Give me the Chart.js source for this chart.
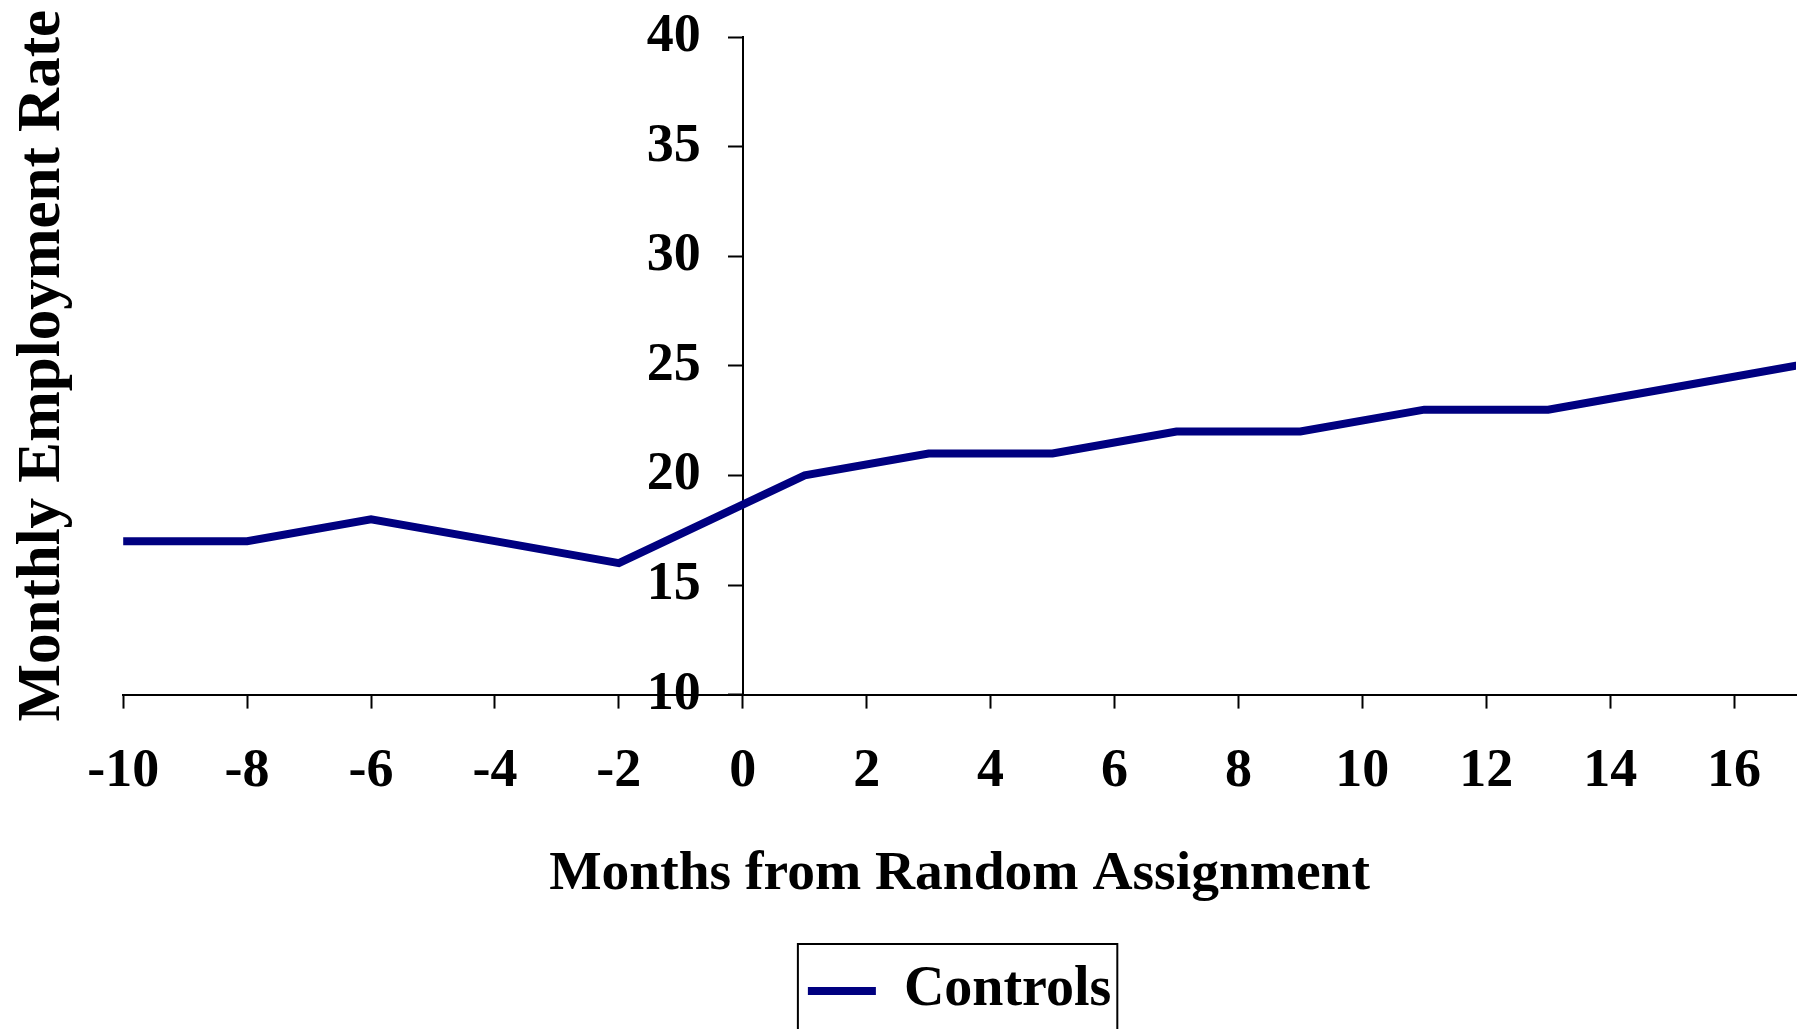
<!DOCTYPE html>
<html>
<head>
<meta charset="utf-8">
<script src="https://cdn.jsdelivr.net/npm/chart.js@4/dist/chart.umd.min.js"></script>
<style>
  html, body { margin: 0; padding: 0; background: #ffffff; overflow: hidden; }
  #wrap { position: relative; width: 1802px; height: 1029px; }
</style>
</head>
<body>
<div id="wrap"><canvas id="c"></canvas></div>
<script>
// ---- data ----
const months = [-10, -8, -6, -4, -2, 1, 3, 5, 7, 9, 11, 13, 15, 17];
const controlsRate = [17, 17, 18, 17, 16, 20, 21, 21, 22, 22, 23, 23, 24, 25];
const xTickValues = [-10, -8, -6, -4, -2, 0, 2, 4, 6, 8, 10, 12, 14, 16];
const yTickValues = [10, 15, 20, 25, 30, 35, 40];
const seriesLabel = 'Controls';
const xAxisTitle = 'Months from Random Assignment';
const yAxisTitle = 'Monthly Employment Rate';

// ---- styling ----
const FONT = "'Liberation Serif', 'Times New Roman', serif";
const NAVY = '#000080';
Chart.defaults.color = '#000';

const points = months.map((m, i) => ({ x: m, y: controlsRate[i] }));

// box drawn around the legend item (Excel-style legend frame)
const legendBorder = {
  id: 'legendBorder',
  afterDraw(chart) {
    const lg = chart.legend;
    if (!lg || !lg.legendHitBoxes || !lg.legendHitBoxes.length) return;
    const hb = lg.legendHitBoxes[0];
    const ctx = chart.ctx;
    ctx.save();
    ctx.strokeStyle = '#000';
    ctx.lineWidth = 2;
    ctx.strokeRect(hb.left - 10, hb.top - 19, hb.width + 16, 200);
    ctx.restore();
  }
};

// the crossing y axis puts its labels on the axis line; move them left by tick length + padding
const yLabelShift = {
  id: 'yLabelShift',
  beforeDraw(chart) {
    const s = chart.scales.y;
    const gap = s.options.grid.tickLength + s.options.ticks.padding;
    s.getLabelItems().forEach(it => {
      if (!it._shifted) { it.options.translation[0] -= gap; it._shifted = true; }
    });
  }
};

new Chart(document.getElementById('c'), {
  type: 'line',
  data: {
    datasets: [{
      label: seriesLabel,
      data: points,
      borderColor: NAVY,
      backgroundColor: NAVY,
      borderWidth: 8,
      borderCapStyle: 'round',
      borderJoinStyle: 'miter',
      pointRadius: 0,
      pointHoverRadius: 0,
      tension: 0,
      fill: false,
      xAxisID: 'x',
      yAxisID: 'y'
    }]
  },
  options: {
    responsive: true,
    maintainAspectRatio: false,
    animation: false,
    events: [],
    layout: { padding: { left: 0, right: 6, top: 37, bottom: 0 } },
    plugins: {
      tooltip: { enabled: false },
      legend: {
        position: 'bottom',
        fullSize: false,
        labels: {
          usePointStyle: true,
          pointStyle: 'line',
          pointStyleWidth: 68,
          padding: 10,
          color: '#000',
          font: { family: FONT, size: 56, weight: 'bold' }
        }
      }
    },
    scales: {
      x: {
        type: 'linear',
        position: 'bottom',
        min: -10,
        max: 17,
        afterBuildTicks: (s) => { s.ticks = xTickValues.map(v => ({ value: v })); },
        ticks: {
          autoSkip: false,
          maxRotation: 0,
          padding: 31,
          color: '#000',
          font: { family: FONT, size: 54, weight: 'bold' }
        },
        grid: { drawOnChartArea: false, drawTicks: true, tickLength: 14, tickWidth: 2, tickColor: '#000' },
        border: { display: true, color: '#000', width: 2 },
        title: {
          display: true,
          text: xAxisTitle,
          color: '#000',
          font: { family: FONT, size: 55.5, weight: 'bold' },
          padding: { top: 6, bottom: 45 }
        }
      },
      y: {
        type: 'linear',
        position: { x: 0 },
        min: 10,
        max: 40,
        afterBuildTicks: (s) => { s.ticks = yTickValues.map(v => ({ value: v })); },
        afterFit: (s) => { s.paddingTop = 0; s.paddingBottom = 0; },
        ticks: {
          padding: 28,
          color: '#000',
          font: { family: FONT, size: 54, weight: 'bold' }
        },
        grid: { drawOnChartArea: false, drawTicks: true, tickLength: 14, tickWidth: 2, tickColor: '#000' },
        border: { display: true, color: '#000', width: 2 }
      },
      yTitle: {
        type: 'linear',
        position: 'left',
        min: 10,
        max: 40,
        ticks: { display: false },
        grid: { display: false, drawTicks: false },
        border: { display: false },
        title: {
          display: true,
          text: yAxisTitle,
          color: '#000',
          font: { family: FONT, size: 61, weight: 'bold' },
          padding: { top: 7, bottom: 43 }
        }
      }
    }
  },
  plugins: [yLabelShift, legendBorder]
});
</script>
</body>
</html>
